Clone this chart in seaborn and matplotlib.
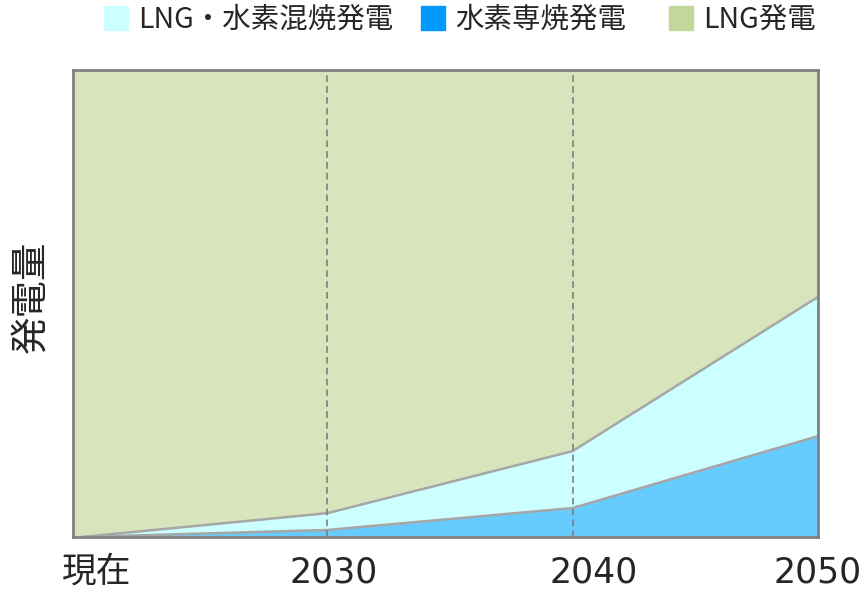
import matplotlib
matplotlib.use("Agg")
import matplotlib.pyplot as plt
import seaborn as sns
import numpy as np
import pandas as pd
from matplotlib.lines import Line2D

categories = ["現在", "2030", "2040", "2050"]
h2_only = [0.0, 1.5, 6.2, 21.6]        # 水素専焼発電
h2_mixed = [0.0, 3.6, 12.2, 29.8]      # LNG・水素混焼発電
lng_total = [100.0, 100.0, 100.0, 100.0]
lng = [t - a - b for t, a, b in zip(lng_total, h2_only, h2_mixed)]  # LNG発電

series_names = ["LNG・水素混焼発電", "水素専焼発電", "LNG発電"]

sns.set_theme(style="white")
plt.rcParams['font.family'] = ['Noto Sans CJK JP', 'DejaVu Sans']

fig = plt.figure(figsize=(8.68, 5.91), dpi=100)
ax = fig.add_axes([0.0841, 0.0914, 0.8583, 0.7902])

x = np.arange(len(categories))
fill_blue = "#66CCFF"
fill_cyan = "#CCFFFF"
fill_green = "#D8E4BC"
ax.set_facecolor(fill_green)
ax.stackplot(x, h2_only, h2_mixed, lng,
             colors=[fill_blue, fill_cyan, fill_green], linewidth=0)

# boundary lines between the stacked layers
blue_top = np.array(h2_only)
mixed_top = blue_top + np.array(h2_mixed)
bounds = pd.DataFrame({
    "x": np.concatenate([x, x]),
    "y": np.concatenate([blue_top, mixed_top]),
    "b": ["blue"] * len(x) + ["mixed"] * len(x),
})
sns.lineplot(data=bounds, x="x", y="y", units="b", estimator=None,
             color="#A6A6A6", linewidth=1.8, legend=False, ax=ax, zorder=2)

for xv in [1, 2]:
    ax.axvline(xv, color="#7F7F7F", linestyle=(0, (4, 2.5)), linewidth=1.2, zorder=3)

ax.set_xlim(-0.037, 3)
ax.set_ylim(0, 100)
ax.set_yticks([])
label_pos = [0.061, 1.027, 2.087, 3.0]
ax.set_xticks(label_pos)
ax.set_xticklabels(categories, fontsize=25, family=['DejaVu Sans', 'Noto Sans CJK JP'])
ax.tick_params(axis="x", length=0, pad=13)
ax.set_xlabel("")
ax.set_ylabel("発電量", fontsize=27)
ax.yaxis.set_label_coords(-0.030, 0.514)

for s in ax.spines.values():
    s.set_color("#808080")
    s.set_linewidth(2)
    s.set_visible(True)
    s.set_zorder(4)

legend_colors = ["#CCFFFF", "#0099FF", "#C4D79B"]
legend_x = [102, 419, 667]
for name, c, lx in zip(series_names, legend_colors, legend_x):
    h = Line2D([0], [0], marker="s", linestyle="none", markersize=17,
               markerfacecolor=c, markeredgecolor=c)
    fig.legend([h], [name], loc="center left", bbox_to_anchor=(lx / 868, 0.966),
               frameon=False, fontsize=20.5, handletextpad=0.26,
               handlelength=1.0, borderpad=0, borderaxespad=0)

fig.savefig("out.png", dpi=100)
